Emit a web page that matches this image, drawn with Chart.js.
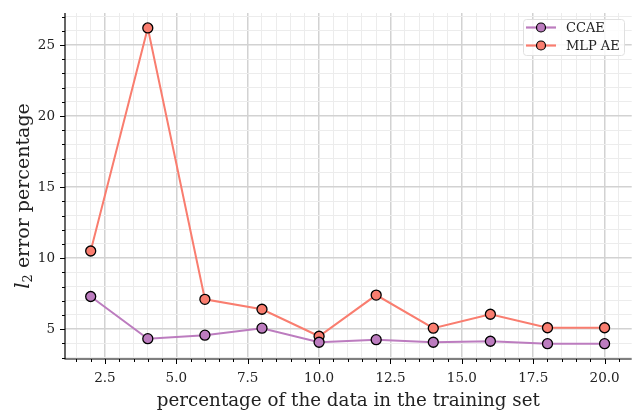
<!DOCTYPE html>
<html><head><meta charset="utf-8">
<script src="https://cdn.jsdelivr.net/npm/chart.js@4/dist/chart.umd.min.js"></script>
<style>html,body{margin:0;padding:0;background:#fff}#wrap{width:638px;height:410px}</style>
</head><body><div id="wrap"><canvas id="c" width="638" height="410"></canvas></div>
<script>
const percentages = [2, 4, 6, 8, 10, 12, 14, 16, 18, 20];
const ccaeErrors = [7.3, 4.33, 4.58, 5.07, 4.08, 4.26, 4.08, 4.15, 3.98, 3.98];
const mlpErrors = [10.5, 26.2, 7.1, 6.4, 4.5, 7.4, 5.07, 6.05, 5.1, 5.1];
const seriesNames = ['CCAE', 'MLP AE'];
const xTickLabels = ['2.5', '5.0', '7.5', '10.0', '12.5', '15.0', '17.5', '20.0'];
const yTickLabels = ['5', '10', '15', '20', '25'];

const COL_CCAE = '#bc7cbf';
const COL_MLP = '#f97d6f';
const SERIF = '"DejaVu Serif", "Liberation Serif", serif';

const isMult = (v, m) => Math.abs(v / m - Math.round(v / m)) < 1e-6;

const decor = {
  id: 'decor',
  afterDraw(chart) {
    const ctx = chart.ctx, xs = chart.scales.x, ys = chart.scales.y, ca = chart.chartArea;
    ctx.save();
    ctx.strokeStyle = '#000'; ctx.lineWidth = 1.2;
    ctx.beginPath(); ctx.moveTo(ca.left, ca.top); ctx.lineTo(ca.left, ca.bottom); ctx.lineTo(ca.right, ca.bottom); ctx.stroke();
    ctx.lineWidth = 1;
    xs.ticks.forEach(t => {
      const px = Math.round(xs.getPixelForValue(t.value)) + 0.5;
      const len = isMult(t.value, 2.5) ? 5 : 3;
      ctx.beginPath(); ctx.moveTo(px, ca.bottom); ctx.lineTo(px, ca.bottom + len); ctx.stroke();
    });
    ys.ticks.forEach(t => {
      const py = Math.round(ys.getPixelForValue(t.value)) + 0.5;
      const len = isMult(t.value, 5) ? 5 : 3;
      ctx.beginPath(); ctx.moveTo(ca.left, py); ctx.lineTo(ca.left - len, py); ctx.stroke();
    });
    // x title
    ctx.fillStyle = '#222'; ctx.font = '18.3px ' + SERIF; ctx.textAlign = 'center'; ctx.textBaseline = 'middle';
    ctx.fillText('percentage of the data in the training set', (ca.left + ca.right) / 2, 401);
    // y title with italic l and subscript 2
    ctx.translate(24, 196);
    ctx.rotate(-Math.PI / 2);
    const f1 = 'italic 20px ' + SERIF, f2 = '13px ' + SERIF, f3 = '19px ' + SERIF;
    ctx.font = f1; const w1 = ctx.measureText('l').width;
    ctx.font = f2; const w2 = ctx.measureText('2').width;
    const rest = ' error percentage';
    ctx.font = f3; const w3 = ctx.measureText(rest).width;
    let x0 = -(w1 + w2 + w3) / 2;
    ctx.textBaseline = 'middle'; ctx.textAlign = 'left';
    ctx.font = f1; ctx.fillText('l', x0, 0); x0 += w1;
    ctx.font = f2; ctx.fillText('2', x0, 5); x0 += w2;
    ctx.font = f3; ctx.fillText(rest, x0, 0);
    ctx.restore();
    // legend
    ctx.save();
    const lx = 523, ly = 19, lw = 101, lh = 36;
    ctx.fillStyle = 'rgba(255,255,255,0.85)';
    ctx.strokeStyle = '#e0e0e0'; ctx.lineWidth = 1;
    ctx.beginPath();
    if (ctx.roundRect) ctx.roundRect(lx + 0.5, ly + 0.5, lw, lh, 3); else ctx.rect(lx + 0.5, ly + 0.5, lw, lh);
    ctx.fill(); ctx.stroke();
    const items = [[seriesNames[0], COL_CCAE], [seriesNames[1], COL_MLP]];
    items.forEach((it, i) => {
      const cy = ly + 8.5 + i * 18;
      ctx.strokeStyle = it[1]; ctx.lineWidth = 2.2;
      ctx.beginPath(); ctx.moveTo(lx + 3, cy); ctx.lineTo(lx + 33, cy); ctx.stroke();
      ctx.fillStyle = it[1]; ctx.strokeStyle = '#000'; ctx.lineWidth = 1.2;
      ctx.beginPath(); ctx.arc(lx + 18, cy, 4.5, 0, Math.PI * 2); ctx.fill(); ctx.stroke();
      ctx.fillStyle = '#222'; ctx.font = '13px ' + SERIF; ctx.textBaseline = 'middle'; ctx.textAlign = 'left';
      ctx.fillText(it[0], lx + 43, cy + 1);
    });
    ctx.restore();
  }
};

new Chart(document.getElementById('c'), {
  type: 'line',
  data: {
    datasets: [
      { label: seriesNames[0], data: percentages.map((x, i) => ({x, y: ccaeErrors[i]})),
        borderColor: COL_CCAE, backgroundColor: COL_CCAE, borderWidth: 2,
        pointRadius: 5, pointBorderColor: '#000', pointBorderWidth: 1.3, pointBackgroundColor: COL_CCAE, tension: 0 },
      { label: seriesNames[1], data: percentages.map((x, i) => ({x, y: mlpErrors[i]})),
        borderColor: COL_MLP, backgroundColor: COL_MLP, borderWidth: 2,
        pointRadius: 5, pointBorderColor: '#000', pointBorderWidth: 1.3, pointBackgroundColor: COL_MLP, tension: 0 }
    ]
  },
  options: {
    responsive: false, animation: false, devicePixelRatio: 1,
    layout: { padding: { top: 0, right: 6, left: 0, bottom: 0 } },
    plugins: { legend: { display: false }, tooltip: { enabled: false } },
    scales: {
      x: {
        type: 'linear', min: 1.1, max: 20.95,
        afterFit: s => { s.height = 51; },
        afterBuildTicks: s => {
          const t = []; for (let v = 1.5; v <= 20.95; v += 0.5) t.push({ value: Math.round(v * 10) / 10 }); s.ticks = t;
        },
        border: { display: false },
        grid: { drawTicks: false,
          lineWidth: c => isMult(c.tick.value, 2.5) ? 1.5 : 1,
          color: c => isMult(c.tick.value, 2.5) ? '#d2d2d2' : '#ececec' },
        ticks: { autoSkip: false, maxRotation: 0, padding: 11, color: '#222', font: { family: SERIF, size: 13.5 },
          callback: v => { const i = xTickLabels.indexOf(Number(v).toFixed(1)); return i >= 0 ? xTickLabels[i] : ''; } }
      },
      y: {
        type: 'linear', min: 2.9, max: 27.25,
        afterFit: s => { s.width = 65; },
        afterBuildTicks: s => {
          const t = []; for (let v = 3; v <= 27; v += 1) t.push({ value: v }); s.ticks = t;
        },
        border: { display: false },
        grid: { drawTicks: false,
          lineWidth: c => isMult(c.tick.value, 5) ? 1.5 : 1,
          color: c => isMult(c.tick.value, 5) ? '#d2d2d2' : '#ececec' },
        ticks: { autoSkip: false, padding: 10, color: '#222', font: { family: SERIF, size: 13.5, lineHeight: 0.45 },
          callback: v => { const i = yTickLabels.indexOf(String(v)); return i >= 0 ? yTickLabels[i] : ''; } }
      }
    }
  },
  plugins: [decor]
});
</script></body></html>
